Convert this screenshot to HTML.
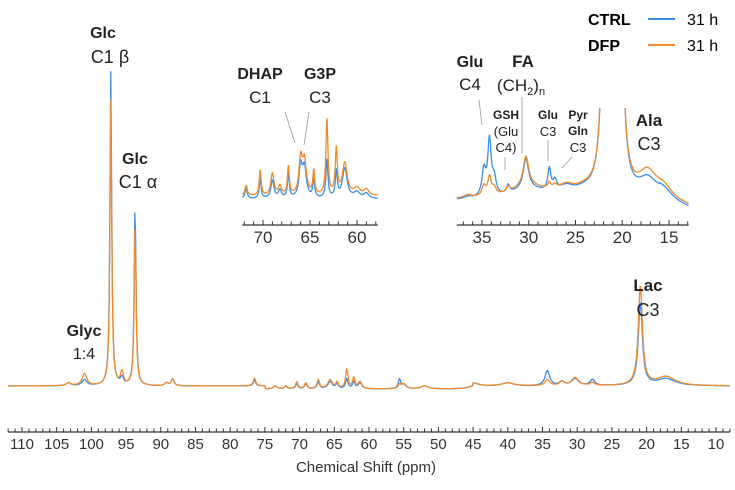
<!DOCTYPE html>
<html><head><meta charset="utf-8">
<style>
html,body{margin:0;padding:0;background:#fff;}
svg{display:block;font-family:"Liberation Sans",sans-serif;}
</style></head>
<body>
<svg id="chart" width="735" height="490" viewBox="0 0 735 490" xmlns="http://www.w3.org/2000/svg">
<defs>
<clipPath id="clipR"><rect x="450" y="108" width="245" height="120"/></clipPath>
</defs>
<g id="main"></g>
<g id="insetL"></g>
<g id="insetR" clip-path="url(#clipR)"></g>
<g id="axes"></g>

<g font-size="16">
<text x="588" y="25" font-weight="bold">CTRL</text>
<line x1="648" y1="19" x2="675" y2="19" stroke="#3b8ee8" stroke-width="2"/>
<text x="687" y="25">31 h</text>
<text x="588" y="51" font-weight="bold">DFP</text>
<line x1="648" y1="45" x2="675" y2="45" stroke="#f08a2c" stroke-width="2"/>
<text x="687" y="51">31 h</text>
</g>

<g fill="#222" text-anchor="middle">
<text x="103" y="38" font-size="16" font-weight="bold">Glc</text>
<text x="110" y="63" font-size="18">C1 β</text>
<text x="135" y="164" font-size="16" font-weight="bold">Glc</text>
<text x="138" y="188" font-size="18">C1 α</text>
<text x="84" y="336" font-size="16" font-weight="bold">Glyc</text>
<text x="84" y="359" font-size="16">1:4</text>
<text x="648" y="291" font-size="17" font-weight="bold">Lac</text>
<text x="648" y="316" font-size="18">C3</text>
<text x="260" y="79" font-size="16" font-weight="bold">DHAP</text>
<text x="260" y="103" font-size="17">C1</text>
<text x="320" y="79" font-size="16" font-weight="bold">G3P</text>
<text x="320" y="103" font-size="17">C3</text>
<text x="470" y="67" font-size="16" font-weight="bold">Glu</text>
<text x="470" y="90" font-size="17">C4</text>
<text x="523" y="67" font-size="17" font-weight="bold">FA</text>
<text x="521" y="91" font-size="17">(CH<tspan font-size="11" dy="4">2</tspan><tspan dy="-4">)</tspan><tspan font-size="11" dy="4">n</tspan></text>
<text x="506" y="119" font-size="12" font-weight="bold">GSH</text>
<text x="506" y="136" font-size="13">(Glu</text>
<text x="506" y="152" font-size="13">C4)</text>
<text x="548" y="119" font-size="12" font-weight="bold">Glu</text>
<text x="548" y="136" font-size="13">C3</text>
<text x="578" y="119" font-size="12" font-weight="bold">Pyr</text>
<text x="578" y="135" font-size="12" font-weight="bold">Gln</text>
<text x="578" y="152" font-size="13">C3</text>
<text x="649" y="126" font-size="17" font-weight="bold">Ala</text>
<text x="649" y="150" font-size="18">C3</text>
</g>
<g stroke="#999" stroke-width="0.8">
<line x1="285" y1="112" x2="295" y2="143"/>
<line x1="309" y1="112" x2="304" y2="145"/>
<line x1="479" y1="100" x2="482" y2="125"/>
<line x1="505" y1="157" x2="505" y2="170"/>
<line x1="522" y1="97" x2="522" y2="153"/>
<line x1="548" y1="140" x2="548" y2="161"/>
<line x1="572" y1="157" x2="562" y2="168"/>
</g>
<text x="366" y="472" text-anchor="middle" font-size="15" fill="#333">Chemical Shift (ppm)</text>
</svg>

<script>
// Main spectrum peaks: ppm, CTRL intensity, DFP intensity, half-width (ppm)
const mainPpm  = [103.3,101.0,97.2,95.6,93.7,89.2,88.3,76.5,73.5,72.0,70.4,69.1,67.3,65.6,64.6,63.2,62.2,61.3,55.6,55.0,52.0,45.0,40.0,34.3,32.2,30.3,27.8,20.9,17.2];
const mainCtrl = [3,   6,   315, 7,   186, 3,   7,   6,   3,   3,   5,   5,   7,   7,   5,   10,  7,   6,   9,   4,   3,   3,   3,   15,  4,   7,   6,   83,  7];
const mainDfp  = [3,   12,  286, 13,  168, 3,   7,   8,   3,   3,   7,   6,   9,   9,   6,   20,  11,  7,   4,   5,   3,   3,   3,   6,   4,   8,   3,   100, 9];
const mainW    = [0.4, 0.4, 0.15,0.25,0.15,0.25,0.25,0.2, 0.3, 0.2, 0.2, 0.2, 0.2, 0.4, 0.2, 0.2, 0.2, 0.3, 0.2, 0.4, 0.6, 0.8, 1.0, 0.4, 0.4, 0.6, 0.4, 0.35,1.6];
const mainTicks = [110,105,100,95,90,85,80,75,70,65,60,55,50,45,40,35,30,25,20,15,10];

// Inset 72-58 ppm
const lPpm  = [71.8,70.3,69.0,68.2,67.3,66.0,65.6,64.6,63.2,62.2,61.3,60.0,59.0];
const lCtrl = [10,  20,  18,  8,   24,  30,  30,  18,  38,  26,  30,  6,   5];
const lDfp  = [10,  25,  22,  9,   28,  34,  34,  23,  75,  45,  32,  7,   6];
const lW    = [0.15,0.12,0.2, 0.2, 0.12,0.2, 0.25,0.12,0.13,0.13,0.3, 0.4, 0.3];
const lTicks = [70,65,60];

// Inset 38-13 ppm
const rPpm  = [36.5,34.8,34.2,33.7,32.2,30.3,30.0,27.8,27.2,26.0,24.0,21.8,20.3,17.3,15.5];
const rCtrl = [2,   26,  55,  16,  8,   30,  10,  22,  10,  8,   6,   400, 400, 18,  7];
const rDfp  = [3,   10,  18,  7,   5,   30,  12,  6,   4,   8,   6,   400, 400, 24,  9];
const rW    = [0.5, 0.25,0.22,0.25,0.2, 0.35,2.5, 0.2, 0.25,1.0, 1.5, 0.3, 0.3, 1.2, 1.0];
const rTicks = [35,30,25,20,15];

const NS='http://www.w3.org/2000/svg';
function mk(tag,attrs,parent){const e=document.createElementNS(NS,tag);for(const k in attrs)e.setAttribute(k,attrs[k]);parent.appendChild(e);return e;}
function lor(p,ppm,h,w){let s=0;for(let i=0;i<ppm.length;i++){const d=(p-ppm[i])/w[i];s+=h[i]/(1+d*d);}return s;}

const xMain=p=>22+(110-p)*6.94, yMain=v=>386-v;
const xL=p=>263+(70-p)*9.4, yL=v=>199-v;
const xR=p=>482+(35-p)*9.35, yR=v=>200-v;

function drawSeries(g,xs,ys,p0,p1,ppm,h,w,col,name,offset){
  let d='';const n=900;
  for(let i=0;i<=n;i++){const p=p0+(p1-p0)*i/n;const v=lor(p,ppm,h,w)+offset(p);
    d+=(i?'L':'M')+xs(p).toFixed(2)+' '+ys(v).toFixed(2);}
  const el=mk('path',{d:d,fill:'none',stroke:col,'stroke-width':1.3,'stroke-linejoin':'round'},g);
  
  
}
const gm=document.getElementById('main');
const baseMain=p=>(p<75&&p>45)?-3:0;
drawSeries(gm,xMain,yMain,112,8,mainPpm,mainCtrl,mainW,'#3b8ee8','ctrl-spectrum',baseMain);
drawSeries(gm,xMain,yMain,112,8,mainPpm,mainDfp,mainW,'#f08a2c','dfp-spectrum',baseMain);
const gl=document.getElementById('insetL');
drawSeries(gl,xL,yL,72.2,57.8,lPpm,lCtrl,lW,'#3b8ee8','ctrl-inset-left',p=>0);
drawSeries(gl,xL,yL,72.2,57.8,lPpm,lDfp,lW,'#f08a2c','dfp-inset-left',p=>3);
const gr=document.getElementById('insetR');
drawSeries(gr,xR,yR,37.7,12.9,rPpm,rCtrl,rW,'#3b8ee8','ctrl-inset-right',p=>p<16?-(16-p)*3:-1);
drawSeries(gr,xR,yR,37.7,12.9,rPpm,rDfp,rW,'#f08a2c','dfp-inset-right',p=>p<16?-(16-p)*2.5:0);

const ga=document.getElementById('axes');
function axis(xs,p0,p1,y,ticks,name,fs){
  const ax=mk('line',{x1:xs(p0),y1:y,x2:xs(p1),y2:y,stroke:'#333','stroke-width':1.2},ga);
  
  
  for(let p=Math.ceil(p1);p<=Math.floor(p0);p++){
    const t=mk('line',{x1:xs(p),y1:y,x2:xs(p),y2:y-(p%5===0?5:3.5),stroke:'#333','stroke-width':1},ga);
    
    
  }
  ticks.forEach(v=>{
    const t=mk('text',{x:xs(v),y:y+(fs>15?18:17),'text-anchor':'middle','font-size':fs,fill:'#333'},ga);
    t.textContent=v;
    
    
  });
}
axis(xMain,112,8,432,mainTicks,'x-axis',15);
axis(xL,72.2,57.8,225,lTicks,'inset-left-axis',17);
axis(xR,37.7,12.9,225,rTicks,'inset-right-axis',17);
</script>
</body></html>
